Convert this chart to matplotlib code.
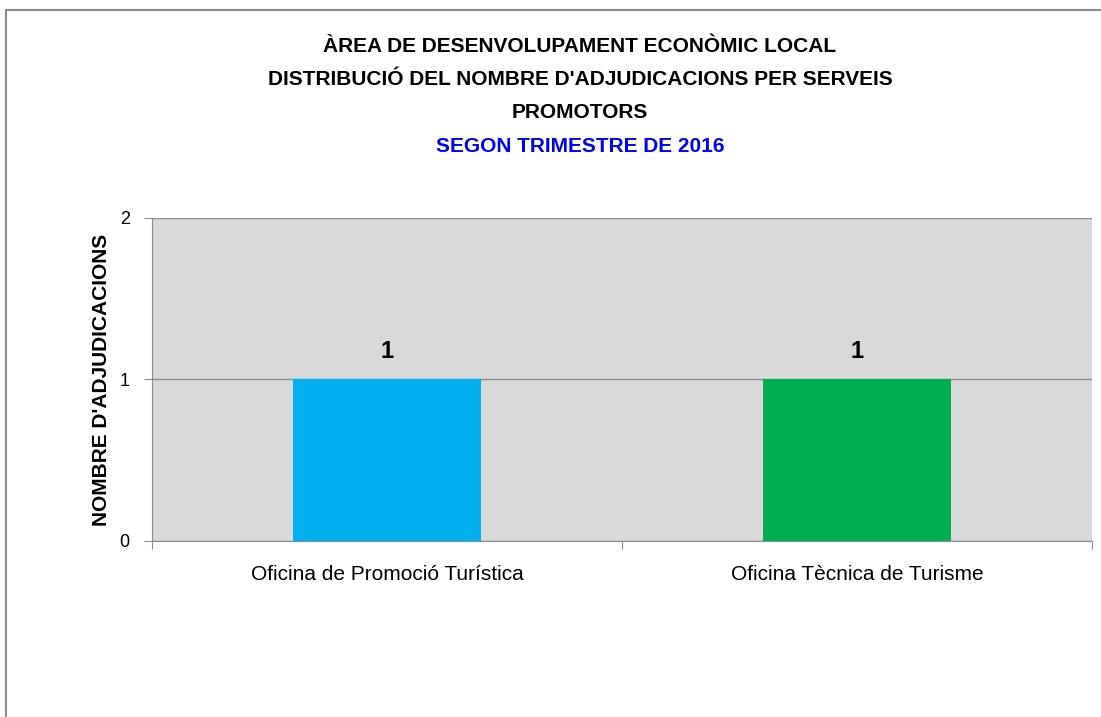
import matplotlib.pyplot as plt
from matplotlib.patches import Rectangle

serveis = ['Oficina de Promoció Turística', 'Oficina Tècnica de Turisme']
adjudicacions = [1, 1]
colors = ['#00B0F0', '#00B050']
yticks = [0, 1, 2]

plt.rcParams['font.family'] = ['Liberation Sans', 'DejaVu Sans']

fig = plt.figure(figsize=(11.01, 7.17), dpi=100)
ax = fig.add_axes([0.138, 0.2455, 0.8537, 0.4505])
ax.set_facecolor('#D9D9D9')

# marc del gràfic
fig.patches.append(Rectangle((6 / 1101, -0.1), 1.2, 1 - 10 / 717 + 0.1,
                             transform=fig.transFigure, fill=False,
                             edgecolor='#8C8C8C', linewidth=1.5))

x = range(len(serveis))
ax.bar(x, adjudicacions, width=0.4, color=colors, zorder=3)
for i, v in enumerate(adjudicacions):
    ax.text(i, v + 0.1, str(v), ha='center', va='bottom',
            fontsize=17, fontweight='bold', zorder=4)

ax.set_xlim(-0.5, len(serveis) - 0.5)
ax.set_ylim(0, 2)
ax.set_yticks(yticks)
ax.set_yticklabels([str(t) for t in yticks], fontsize=13)
ax.yaxis.grid(True, color='#8C8C8C', linewidth=1, zorder=0)
ax.set_axisbelow(True)

ax.set_xticks([i - 0.5 for i in range(len(serveis) + 1)])
ax.set_xticklabels([])
ax.set_xticks(list(x), minor=True)
ax.set_xticklabels(serveis, minor=True, fontsize=15)
ax.tick_params(axis='x', which='minor', length=0, pad=17)
ax.tick_params(axis='x', which='major', length=6, color='#8C8C8C')
ax.tick_params(axis='y', length=6, color='#8C8C8C', pad=10)

for s in ['top', 'right']:
    ax.spines[s].set_visible(False)
for s in ['left', 'bottom']:
    ax.spines[s].set_color('#8C8C8C')

ax.set_ylabel("NOMBRE D'ADJUDICACIONS", fontsize=15, fontweight='bold', labelpad=6)

title_lines = ['ÀREA DE DESENVOLUPAMENT ECONÒMIC LOCAL',
               "DISTRIBUCIÓ DEL NOMBRE D'ADJUDICACIONS PER SERVEIS",
               'PROMOTORS']
for k, line in enumerate(title_lines):
    fig.text(580 / 1101, 1 - (46 + 33.5 * k) / 717, line, ha='center', va='center',
             fontsize=15, fontweight='bold')
fig.text(580 / 1101, 1 - 146 / 717, 'SEGON TRIMESTRE DE 2016', ha='center', va='center',
         fontsize=15, fontweight='bold', color='#0000FF')

fig.savefig('out.png', dpi=100, facecolor='white')
